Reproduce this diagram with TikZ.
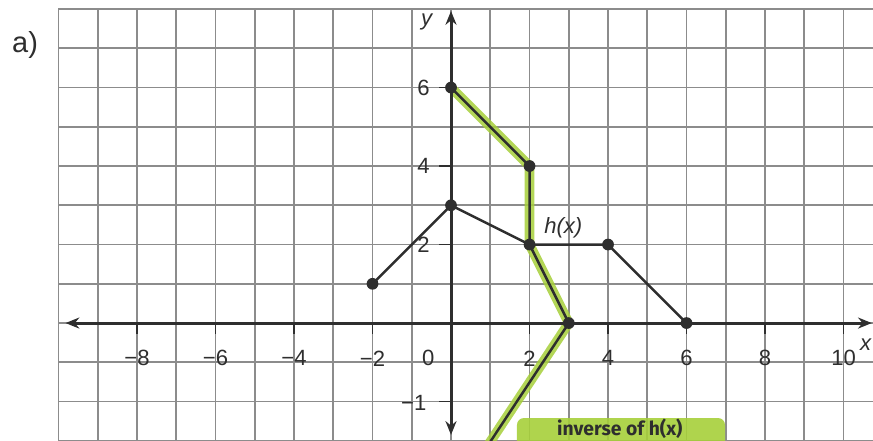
\documentclass[tikz,border=0pt]{standalone}
\usepackage{fontspec}
\setmainfont{Liberation Sans}
\newfontfamily\handfont{Fira Sans}
\usetikzlibrary{arrows.meta}
\definecolor{ink}{HTML}{2E2E2E}
\definecolor{gridgray}{HTML}{8C8C8C}
\definecolor{marker}{HTML}{A6CF3A}
\tikzset{gridline/.style={draw=gridgray,line width=1.3pt}, axis/.style={draw=ink,line width=2.2pt,{Stealth[length=10pt,width=8pt]}-{Stealth[length=10pt,width=8pt]}}, tick/.style={draw=ink,line width=1.2pt}, graph/.style={draw=ink,line width=1.8pt,line join=round}, glow/.style={draw=marker,opacity=.85,line width=7pt,line cap=round,line join=round}, dot/.style={fill=ink}, num/.style={font=\fontsize{16}{18}\selectfont,text=ink,inner sep=1pt}}

\begin{document}
\begin{tikzpicture}[x=1cm,y=1cm]
\useasboundingbox (-11.49,-3.0) rectangle (10.75,8.23);
\clip (-11.49,-3.0) rectangle (10.75,8.23);
% grid paper
\foreach \i in {-10,...,10} \draw[gridline] (\i,-3.2) -- (\i,8);
\foreach \j in {-3,...,8} \draw[gridline] (-10,\j) -- (10.9,\j);
\node[font=\fontsize{21}{24}\selectfont,text=ink] (part) at (-10.85,7.08) {a)};
% points of h(x) and its inverse
\coordinate (h1) at (-2,1);
\coordinate (h2) at (0,3);
\coordinate (h3) at (2,2);
\coordinate (h4) at (4,2);
\coordinate (h5) at (6,0);
\coordinate (g1) at (0,6);
\coordinate (g2) at (2,4);
\coordinate (g4) at (3,0);
\coordinate (gend) at (0.95,-3.1);
% highlighter
\draw[glow,xshift=2.5pt] (g1) -- (g2) -- (h3) -- (g4) -- (gend);
\fill[marker,opacity=.9,rounded corners=5pt] (1.68,-2.42) rectangle (6.98,-3.2);
% axes
\coordinate (xl) at (-9.82,0);
\coordinate (xr) at (10.72,0);
\coordinate (yb) at (0,-2.85);
\coordinate (yt) at (0,7.95);
\draw[axis] (xl) -- (xr);
\draw[axis] (yb) -- (yt);
\node[num,font=\fontsize{16}{18}\selectfont\itshape] (xlab) at (10.56,-0.55) {x};
\node[num,font=\fontsize{16}{18}\selectfont\itshape] (ylab) at (-0.62,7.68) {y};
\foreach \x in {-8,-6,-4,-2,2,4,6,8,10} {
  \draw[tick] (\x,0) -- (\x,-0.28);
  \node[num] at (\x,-0.9) {\ifnum\x<0 −\fi\the\numexpr\ifnum\x<0 -\fi\x\relax};
}
\node[num] (zero) at (-0.58,-0.9) {0};
\foreach \y in {2,4,6} {
  \draw[tick] (-0.3,\y) -- (0,\y);
  \node[num] at (-0.7,\y) {\y};
}
\draw[tick] (-0.3,-2) -- (0,-2);
\node[num] (mone) at (-0.95,-2.04) {−1};
% graphs
\draw[graph] (h1) -- (h2) -- (h3) -- (h4) -- (h5);
\draw[graph] (g1) -- (g2) -- (h3) -- (g4) -- (gend);
\foreach \p in {h1,h2,h3,h4,h5,g1,g2,g4} \fill[dot] (\p) circle (0.15);
\node[num,font=\fontsize{16}{18}\selectfont\itshape] (hlab) at (2.86,2.42) {h(x)};
\node[font=\handfont\bfseries\fontsize{14}{16}\selectfont,text=ink] (invlab) at (4.3,-2.68) {inverse of h(x)};
\end{tikzpicture}
\end{document}
